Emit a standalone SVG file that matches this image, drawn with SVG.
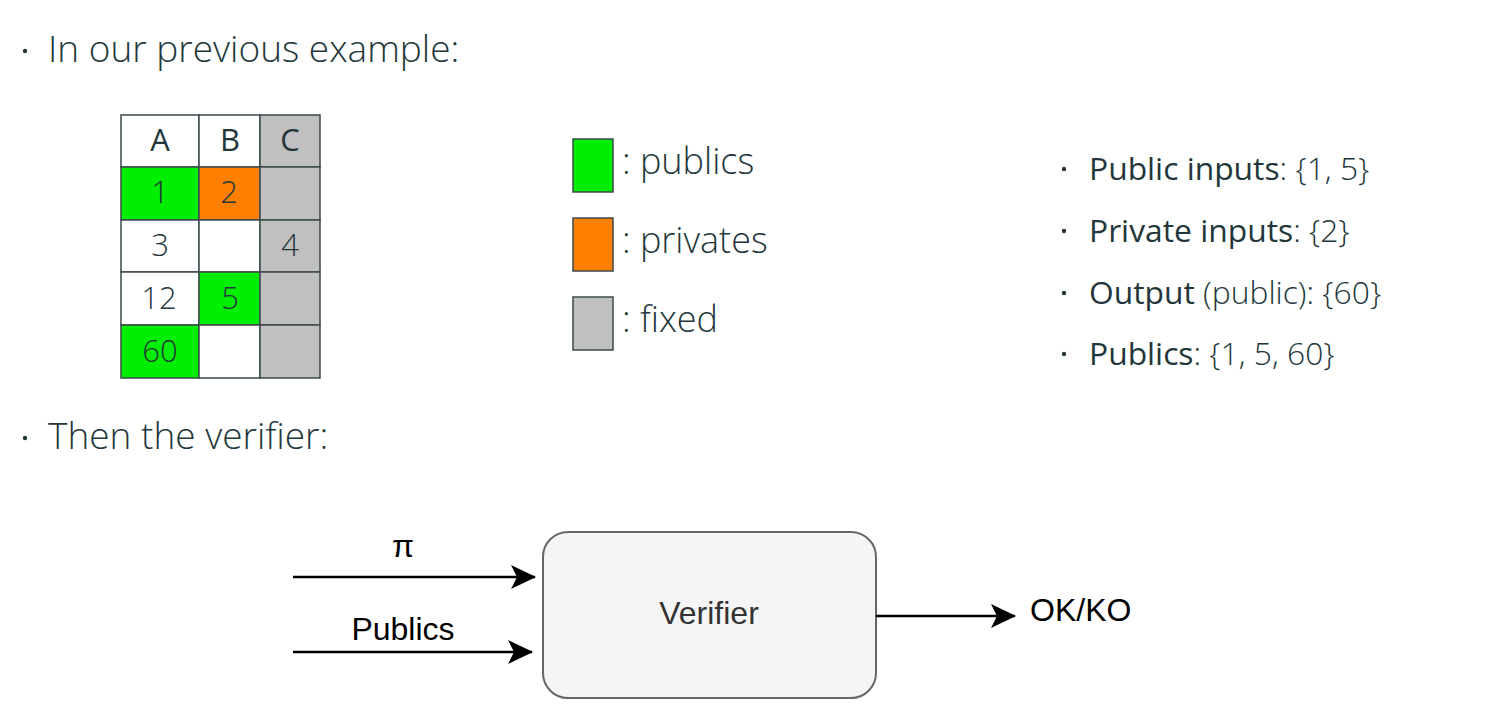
<svg xmlns="http://www.w3.org/2000/svg" width="1493" height="708" viewBox="0 0 1493 708">
<defs>
<style>
.t{font-family:"Open Sans","Noto Sans",sans-serif;fill:#23373b;font-weight:300}
.b{font-weight:500}
.cell{stroke:#3c4a4e;stroke-width:1.5}
.ct{font-family:"Open Sans","Noto Sans",sans-serif;fill:#23373b;font-size:31px;text-anchor:middle;font-weight:300}
.d{font-family:"Liberation Sans",Arial,sans-serif;fill:#000}
.ln{stroke:#000;stroke-width:2.5;fill:none}
</style>
<marker id="ah" viewBox="0 0 26 26" refX="24" refY="13" markerWidth="26" markerHeight="26" markerUnits="userSpaceOnUse" orient="auto">
<path d="M0,1 L25,13 L0,25 L6,13 Z" fill="#000"/>
</marker>
</defs>
<rect width="1493" height="708" fill="#fff"/>
<g id="bullet1">
<circle cx="25" cy="51" r="2.2" fill="#23373b"/>
<text class="t" x="48" y="62" font-size="37">In our previous example:</text>
</g>
<g id="table">
<rect class="cell" x="121" y="115" width="78" height="52" fill="#fff"/>
<rect class="cell" x="199" y="115" width="61" height="52" fill="#fff"/>
<rect class="cell" x="260" y="115" width="60" height="52" fill="#c0c0c0"/>
<rect class="cell" x="121" y="167" width="78" height="53" fill="#00ee00"/>
<rect class="cell" x="199" y="167" width="61" height="53" fill="#ff8000"/>
<rect class="cell" x="260" y="167" width="60" height="53" fill="#c0c0c0"/>
<rect class="cell" x="121" y="220" width="78" height="52" fill="#fff"/>
<rect class="cell" x="199" y="220" width="61" height="52" fill="#fff"/>
<rect class="cell" x="260" y="220" width="60" height="52" fill="#c0c0c0"/>
<rect class="cell" x="121" y="272" width="78" height="53" fill="#fff"/>
<rect class="cell" x="199" y="272" width="61" height="53" fill="#00ee00"/>
<rect class="cell" x="260" y="272" width="60" height="53" fill="#c0c0c0"/>
<rect class="cell" x="121" y="325" width="78" height="53" fill="#00ee00"/>
<rect class="cell" x="199" y="325" width="61" height="53" fill="#fff"/>
<rect class="cell" x="260" y="325" width="60" height="53" fill="#c0c0c0"/>
<text class="ct" x="160" y="151" style="font-weight:400">A</text>
<text class="ct" x="230" y="151" style="font-weight:400">B</text>
<text class="ct" x="290" y="151" style="font-weight:400">C</text>
<text class="ct" x="160" y="203">1</text>
<text class="ct" x="229" y="203">2</text>
<text class="ct" x="160" y="256">3</text>
<text class="ct" x="290" y="256">4</text>
<text class="ct" x="159" y="309">12</text>
<text class="ct" x="230" y="309">5</text>
<text class="ct" x="160" y="362">60</text>
</g>
<g id="legend">
<rect class="cell" x="573" y="139" width="40" height="53" fill="#00ee00"/>
<rect class="cell" x="573" y="218" width="40" height="53" fill="#ff8000"/>
<rect class="cell" x="573" y="297" width="40" height="53" fill="#c0c0c0"/>
<text class="t" x="622" y="174" font-size="36">: publics</text>
<text class="t" x="622" y="253" font-size="36">: privates</text>
<text class="t" x="622" y="332" font-size="36">: fixed</text>
</g>
<g id="list">
<circle cx="1064" cy="169" r="2.2" fill="#23373b"/>
<circle cx="1064" cy="231" r="2.2" fill="#23373b"/>
<circle cx="1064" cy="293" r="2.2" fill="#23373b"/>
<circle cx="1064" cy="354" r="2.2" fill="#23373b"/>
<text class="t" x="1089" y="180" font-size="31.8"><tspan class="b">Public inputs</tspan>: {1, 5}</text>
<text class="t" x="1089" y="242" font-size="31.8"><tspan class="b">Private inputs</tspan>: {2}</text>
<text class="t" x="1089" y="304" font-size="31.8"><tspan class="b">Output</tspan> (public): {60}</text>
<text class="t" x="1089" y="365" font-size="31.8"><tspan class="b">Publics</tspan>: {1, 5, 60}</text>
</g>
<g id="bullet2">
<circle cx="25" cy="438" r="2.2" fill="#23373b"/>
<text class="t" x="48" y="449" font-size="37">Then the verifier:</text>
</g>
<g id="verifier">
<rect x="543" y="532" width="333" height="166" rx="25" ry="25" fill="#f5f5f5" stroke="#666" stroke-width="2"/>
<text class="d" x="709" y="624" font-size="32" text-anchor="middle" style="fill:#333">Verifier</text>
</g>
<g id="connectors">
<line class="ln" x1="293" y1="577" x2="535" y2="577" marker-end="url(#ah)"/>
<line class="ln" x1="293" y1="652" x2="532" y2="652" marker-end="url(#ah)"/>
<line class="ln" x1="876" y1="616" x2="1015" y2="616" marker-end="url(#ah)"/>
<text class="d" x="403" y="557" font-size="32" text-anchor="middle">π</text>
<text class="d" x="403" y="640" font-size="32" text-anchor="middle">Publics</text>
<text class="d" x="1030" y="621" font-size="32">OK/KO</text>
</g>
</svg>
